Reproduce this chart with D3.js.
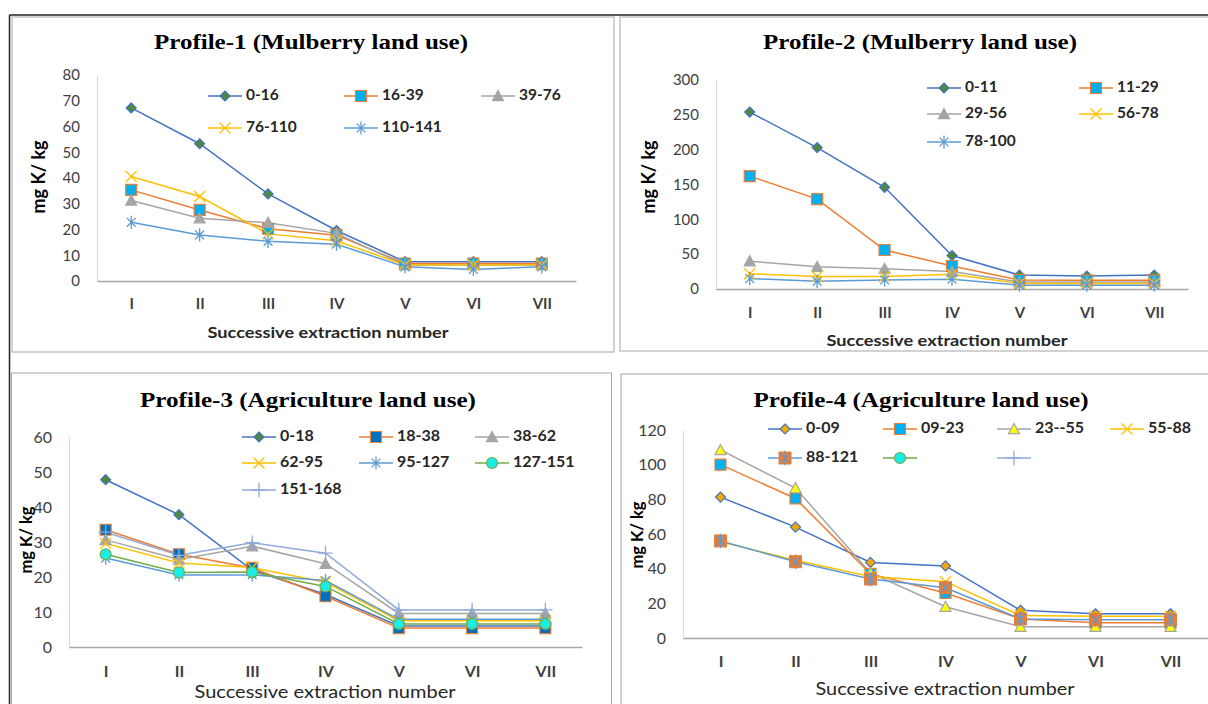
<!DOCTYPE html>
<html>
<head>
<meta charset="utf-8">
<script src="https://cdn.jsdelivr.net/npm/d3@7"></script>
<style>
  body { margin: 0; background: #fff; }
  svg { display: block; }
</style>
</head>
<body>
<svg id="chart" width="1208" height="704"></svg>
<script>
const categories = ["I", "II", "III", "IV", "V", "VI", "VII"]

// Profile-1 (Mulberry land use)
const p1Depths = ["0-16", "16-39", "39-76", "76-110", "110-141"]
const p1Values = [
  [67.2, 53.3, 33.8, 19.6, 7.5, 7.5, 7.5],
  [35.4, 27.6, 20.3, 17.8, 6.8, 6.8, 6.8],
  [31.3, 24.4, 22.6, 18.5, 6.2, 6.2, 6.2],
  [40.6, 32.8, 18.3, 15.6, 6.2, 6.2, 6.2],
  [22.8, 17.9, 15.4, 14.3, 5.5, 4.5, 5.5]
]

// Profile-2 (Mulberry land use)
const p2Depths = ["0-11", "11-29", "29-56", "56-78", "78-100"]
const p2Values = [
  [254, 203, 146, 48, 20, 18.5, 20],
  [162, 129, 56, 33, 13, 12.5, 12.5],
  [40, 32, 29, 25, 10, 10, 10],
  [22, 18, 18, 21, 8, 8, 8],
  [15, 11, 13, 14, 5.5, 5.5, 5.5]
]

// Profile-3 (Agriculture land use)
const p3Depths = ["0-18", "18-38", "38-62", "62-95", "95-127", "127-151", "151-168"]
const p3Values = [
  [47.8, 37.8, 22, 15, 6, 6, 6],
  [33.5, 26.5, 22.6, 14.5, 5.4, 5.4, 5.4],
  [30.6, 25, 28.8, 23.8, 9.6, 9.6, 9.6],
  [29.6, 24, 22.7, 18.5, 7.5, 7.5, 7.5],
  [25.4, 20.6, 20.6, 19, 7.9, 7.9, 7.9],
  [26.5, 21.3, 21.4, 17.3, 6.6, 6.6, 6.6],
  [32.8, 26.2, 29.8, 26.8, 10.6, 10.6, 10.6]
]

// Profile-4 (Agriculture land use)
const p4Depths = ["0-09", "09-23", "23--55", "55-88", "88-121", "", ""]
const p4Values = [
  [81.3, 64, 43.6, 41.6, 16, 14, 14],
  [100, 80.5, 37, 26, 11, 8.8, 8.8],
  [108.5, 86.5, 37.5, 18, 6.5, 6.5, 6.5],
  [55.5, 44.8, 35.5, 32.5, 13, 12.5, 12.5],
  [56, 44, 34, 29, 11, 10.6, 10.6],
  [],
  []
]

const blue = "#4472C4", orange = "#ED7D31", gray = "#A5A5A5", gold = "#FFC000",
      lightBlue = "#5B9BD5", green = "#70AD47", lavender = "#8FAADC"

const mulberryStyles = [
  { line: blue, marker: "diamond", fill: "#4E8A3A", stroke: blue },
  { line: orange, marker: "square", fill: "#00B0F0", stroke: orange },
  { line: gray, marker: "triangle", fill: gray, stroke: gray },
  { line: gold, marker: "x", fill: "none", stroke: gold },
  { line: lightBlue, marker: "star", fill: "none", stroke: lightBlue }
]
const p3Styles = [
  { line: blue, marker: "diamond", fill: "#4E8A3A", stroke: blue },
  { line: orange, marker: "square", fill: "#0070C0", stroke: orange },
  { line: gray, marker: "triangle", fill: gray, stroke: gray },
  { line: gold, marker: "x", fill: "none", stroke: gold },
  { line: lightBlue, marker: "star", fill: "none", stroke: lightBlue },
  { line: green, marker: "circle", fill: "#1CEBE6", stroke: green },
  { line: lavender, marker: "plus", fill: "none", stroke: lavender }
]
const p4Styles = [
  { line: blue, marker: "diamond", fill: "#F2A900", stroke: blue },
  { line: orange, marker: "square", fill: "#00B0F0", stroke: orange },
  { line: gray, marker: "triangle", fill: "#FFFF00", stroke: gray },
  { line: gold, marker: "x", fill: "none", stroke: gold },
  { line: lightBlue, marker: "squareStar", fill: orange, stroke: lightBlue },
  { line: green, marker: "circle", fill: "#1CEBE6", stroke: green },
  { line: lavender, marker: "plus", fill: "none", stroke: lavender }
]

const sansFont = "Lato, 'Open Sans', sans-serif"
const serifFont = "'Liberation Serif', 'DejaVu Serif', serif"

const svg = d3.select("#chart")

// frames
svg.append("rect").attr("x", 12).attr("y", 17).attr("width", 602).attr("height", 335)
  .attr("fill", "none").attr("stroke", "#A6A6A6")
svg.append("rect").attr("x", 620).attr("y", 17).attr("width", 600).attr("height", 334)
  .attr("fill", "none").attr("stroke", "#A6A6A6")
svg.append("rect").attr("x", 11.5).attr("y", 373).attr("width", 600).attr("height", 340)
  .attr("fill", "none").attr("stroke", "#A6A6A6")
svg.append("rect").attr("x", 621).attr("y", 374).attr("width", 600).attr("height", 340)
  .attr("fill", "none").attr("stroke", "#A6A6A6")
svg.append("line").attr("x1", 9.5).attr("x2", 1208).attr("y1", 15).attr("y2", 15)
  .attr("stroke", "#222").attr("stroke-width", 1.5)
svg.append("line").attr("x1", 9.5).attr("x2", 9.5).attr("y1", 15).attr("y2", 704)
  .attr("stroke", "#222").attr("stroke-width", 1.5)

function markerPath(type, s) {
  switch (type) {
    case "diamond": return `M0,${-s}L${s},0L0,${s}L${-s},0Z`
    case "square": return `M${-s},${-s}H${s}V${s}H${-s}Z`
    case "triangle": return `M0,${-s}L${s},${s * 0.85}H${-s}Z`
    case "x": return `M${-s},${-s}L${s},${s}M${-s},${s}L${s},${-s}`
    case "star": return `M${-s * 0.8},${-s * 0.8}L${s * 0.8},${s * 0.8}M${-s * 0.8},${s * 0.8}L${s * 0.8},${-s * 0.8}M0,${-s * 1.2}V${s * 1.2}`
    case "plus": return `M${-s * 1.3},0H${s * 1.3}M0,${-s * 1.3}V${s * 1.3}`
    case "circle": return d3.symbol(d3.symbolCircle, Math.PI * s * s)()
  }
}

const markerSize = { diamond: 5, square: 5.5, triangle: 5.5, x: 5.5, star: 5.5, plus: 5.5, circle: 5.5, squareStar: 6 }

function drawMarker(g, st, cx, cy) {
  const s = markerSize[st.marker]
  if (st.marker === "squareStar") {
    g.append("path").attr("d", markerPath("square", s)).attr("transform", `translate(${cx},${cy})`)
      .attr("fill", st.fill).attr("stroke", st.fill).attr("stroke-width", 1)
    g.append("path").attr("d", markerPath("star", s)).attr("transform", `translate(${cx},${cy})`)
      .attr("fill", "none").attr("stroke", st.stroke).attr("stroke-width", 1.2)
    return
  }
  const open = st.fill === "none"
  g.append("path").attr("d", markerPath(st.marker, s)).attr("transform", `translate(${cx},${cy})`)
    .attr("fill", open ? "none" : st.fill)
    .attr("stroke", st.stroke)
    .attr("stroke-width", open ? 1.3 : 1.2)
}

function drawPanel(p) {
  const g = svg.append("g")
  const x = d3.scalePoint().domain(categories).range([p.left, p.right]).padding(0.5)
  const y = d3.scaleLinear().domain([0, p.yMax]).range([p.bottom, p.top])

  // title
  g.append("text")
    .attr("x", p.titleX).attr("y", p.titleY)
    .attr("text-anchor", "middle").attr("dominant-baseline", "middle")
    .attr("font-family", serifFont).attr("font-weight", "bold").attr("font-size", 22)
    .attr("textLength", p.titleW).attr("lengthAdjust", "spacingAndGlyphs")
    .text(p.title)

  // y axis
  g.append("g").attr("transform", `translate(${p.left},0)`)
    .call(d3.axisLeft(y).tickValues(d3.range(0, p.yMax + 1, p.yStep)).tickSize(0).tickSizeOuter(0).tickPadding(17))
    .call(a => a.select(".domain").attr("stroke", "#D9D9D9"))
    .call(a => a.selectAll("text").attr("font-family", sansFont).attr("font-size", p.tickFont).attr("fill", "#404040"))

  // x axis
  g.append("g").attr("transform", `translate(0,${p.bottom})`)
    .call(d3.axisBottom(x).tickSize(0).tickSizeOuter(0).tickPadding(p.xPad))
    .call(a => a.select(".domain").attr("stroke", "#A6A6A6").attr("stroke-width", 1.3))
    .call(a => a.selectAll("text").attr("font-family", sansFont).attr("font-weight", "bold")
      .attr("font-size", p.tickFont).attr("fill", "#404040"))

  // axis titles
  g.append("text")
    .attr("transform", `translate(${p.yTitleX},${p.yTitleY}) rotate(-90)`)
    .attr("text-anchor", "middle").attr("dominant-baseline", "middle")
    .attr("font-family", sansFont).attr("font-weight", "bold").attr("font-size", p.yTitleFont)
    .attr("textLength", p.yTitleW).attr("lengthAdjust", "spacingAndGlyphs")
    .attr("fill", "#000").text("mg K/ kg")
  g.append("text")
    .attr("x", p.xTitleX).attr("y", p.xTitleY)
    .attr("text-anchor", "middle").attr("dominant-baseline", "middle")
    .attr("font-family", sansFont).attr("font-weight", p.xTitleWeight).attr("font-size", p.xTitleFont)
    .attr("textLength", p.xTitleW).attr("lengthAdjust", "spacingAndGlyphs")
    .attr("fill", "#262626").text("Successive extraction number")

  // series
  const line = d3.line().x((d, i) => x(categories[i])).y(d => y(d))
  p.values.forEach((vals, k) => {
    if (!vals.length) return
    g.append("path").datum(vals).attr("d", line)
      .attr("fill", "none").attr("stroke", p.styles[k].line).attr("stroke-width", 1.5)
  })
  p.values.forEach((vals, k) => {
    vals.forEach((v, i) => drawMarker(g, p.styles[k], x(categories[i]), y(v)))
  })

  // legend
  p.depths.forEach((name, k) => {
    const cx = p.legCols[k % p.legCols.length]
    const cy = p.legRows[Math.floor(k / p.legCols.length)]
    g.append("line").attr("x1", cx - 17).attr("x2", cx + 17).attr("y1", cy).attr("y2", cy)
      .attr("stroke", p.styles[k].line).attr("stroke-width", 1.5)
    drawMarker(g, p.styles[k], cx, cy)
    g.append("text").attr("x", cx + 21).attr("y", cy)
      .attr("dominant-baseline", "middle")
      .attr("font-family", sansFont).attr("font-weight", "bold").attr("font-size", p.legFont)
      .attr("fill", "#262626").text(name)
  })
}

drawPanel({
  title: "Profile-1 (Mulberry land use)", titleX: 311, titleY: 44, titleW: 314,
  depths: p1Depths, values: p1Values, styles: mulberryStyles,
  left: 97, right: 576, top: 75, bottom: 281, yMax: 80, yStep: 10,
  tickFont: 15, xPad: 17,
  yTitleX: 40, yTitleY: 177, yTitleFont: 18, yTitleW: 73,
  xTitleX: 328, xTitleY: 334, xTitleFont: 16, xTitleWeight: "bold", xTitleW: 241,
  legCols: [225, 361, 498], legRows: [96, 128], legFont: 15.5
})

drawPanel({
  title: "Profile-2 (Mulberry land use)", titleX: 920, titleY: 44, titleW: 314,
  depths: p2Depths, values: p2Values, styles: mulberryStyles,
  left: 716, right: 1188, top: 80, bottom: 289, yMax: 300, yStep: 50,
  tickFont: 15, xPad: 18,
  yTitleX: 650, yTitleY: 177, yTitleFont: 18, yTitleW: 73,
  xTitleX: 947, xTitleY: 342, xTitleFont: 16, xTitleWeight: "bold", xTitleW: 241,
  legCols: [944, 1096], legRows: [88, 114, 142], legFont: 15.5
})

drawPanel({
  title: "Profile-3 (Agriculture land use)", titleX: 308, titleY: 402, titleW: 336,
  depths: p3Depths, values: p3Values, styles: p3Styles,
  left: 69, right: 582, top: 437, bottom: 647, yMax: 60, yStep: 10,
  tickFont: 16, xPad: 19,
  yTitleX: 28, yTitleY: 540, yTitleFont: 17, yTitleW: 67,
  xTitleX: 325, xTitleY: 693, xTitleFont: 18, xTitleWeight: "normal", xTitleW: 261,
  legCols: [259, 376, 492], legRows: [437, 463, 490], legFont: 16
})

drawPanel({
  title: "Profile-4 (Agriculture land use)", titleX: 921, titleY: 402, titleW: 335,
  depths: p4Depths, values: p4Values, styles: p4Styles,
  left: 683, right: 1208, top: 430, bottom: 638, yMax: 120, yStep: 20,
  tickFont: 16, xPad: 18,
  yTitleX: 639, yTitleY: 535, yTitleFont: 17, yTitleW: 67,
  xTitleX: 945, xTitleY: 690, xTitleFont: 18, xTitleWeight: "normal", xTitleW: 259,
  legCols: [785, 900, 1014, 1127], legRows: [429, 458], legFont: 16
})
</script>
</body>
</html>
